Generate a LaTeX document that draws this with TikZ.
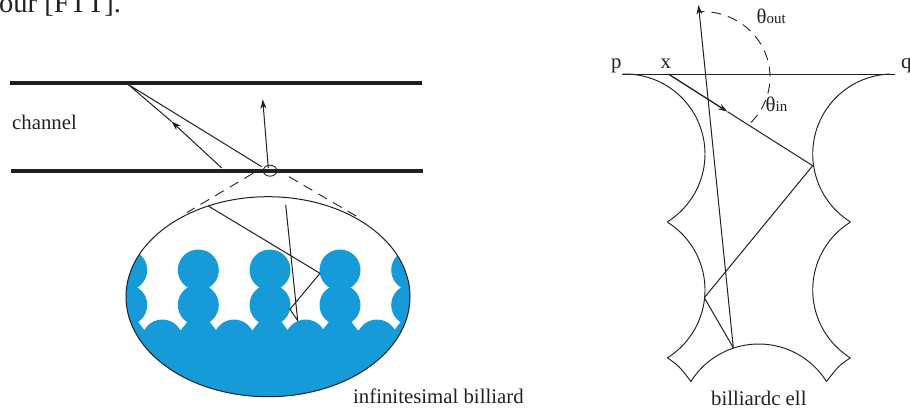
\documentclass[tikz,border=0pt]{standalone}
\usepackage{fontspec}
\setmainfont{Liberation Serif}
\usetikzlibrary{arrows.meta,shapes.geometric}
\definecolor{billblue}{HTML}{169BD8}
\definecolor{inkdark}{HTML}{231F20}
\newcommand{\cellarc}[5]{plot[domain=#4:#5,samples=50,smooth,variable=\a] ({#1+#3*cos(\a)},{#2+#3*sin(\a)})}
\tikzset{
  thin line/.style={draw=inkdark,line width=0.95pt},
  wall/.style={draw=inkdark,line width=4.4pt},
  traj/.style={draw=inkdark,line width=1pt,line join=round},
  headed/.style={draw=inkdark,line width=1pt,-{Stealth[length=9.5pt,width=6pt]}},
  dashline/.style={draw=inkdark,line width=0.9pt,dash pattern=on 10pt off 7pt},
  label/.style={inner sep=0pt,anchor=base west,font=\fontsize{20.8pt}{24pt}\selectfont,text=inkdark}
}
\begin{document}
\begin{tikzpicture}[x=1pt,y=-1pt]
\useasboundingbox (0,0) rectangle (910,410);
% cropped text at the top
\node[label,font=\fontsize{28.5pt}{30pt}\selectfont] (top) at (-1,12) {our [FTT].};
% channel
\coordinate (wa1) at (10,82.7); \coordinate (wa2) at (422,82.7);
\coordinate (wb1) at (11,170.7); \coordinate (wb2) at (423,170.7);
\draw[wall] (wa1) -- (wa2);
\draw[wall] (wb1) -- (wb2);
\node[label] (channel) at (12,129.3) {channel};
\coordinate (c1) at (128.3,84.5);
\coordinate (c2) at (261.7,166.7);
\coordinate (c3) at (221.7,168);
\coordinate (c3m) at (171.5,121.5);
\coordinate (c4) at (268.3,168);
\coordinate (c5) at (262.7,99.3);
\draw[traj] (c2) -- (c1) -- (c3m);
\draw[headed] (c3) -- (c3m);
\draw[headed] (c4) -- (c5);
\node[draw=inkdark,line width=0.9pt,ellipse,minimum width=13.5pt,minimum height=11pt,inner sep=0pt] (spot) at (270,170.7) {};
% zoom lens
\begin{scope}
  \clip (268,296.7) ellipse [x radius=142, y radius=100];
  \foreach \cx in {126.7,198.3,270,340,411.7} {
    \fill[billblue] (\cx,270) circle [radius=20.5];
    \fill[billblue] (\cx,305) circle [radius=20.5];
    \fill[billblue] (\cx-11,322) -- (\cx-17.8,330.5) -- (\cx+18,330.5) -- (\cx+11.5,322) -- cycle;
  }
  \foreach \bx in {162.3,234,305.6,377} {
    \fill[billblue] (\bx,340) circle [radius=20.5];
  }
  \fill[billblue] (120,330) rectangle (420,400);
\end{scope}
\node[draw=inkdark,line width=1pt,ellipse,minimum width=284pt,minimum height=200pt,inner sep=0pt] (lens) at (268,296.7) {};
\coordinate (d1a) at (253,173.3); \coordinate (d1b) at (187,212.5);
\coordinate (d2a) at (289,176.7); \coordinate (d2b) at (357,216.5);
\draw[dashline] (d1a) -- (d1b);
\draw[dashline] (d2a) -- (d2b);
\coordinate (e1) at (208.3,206);
\coordinate (e2) at (320,273.3);
\coordinate (e3) at (290,309.3);
\coordinate (e4) at (297.7,320.7);
\coordinate (e5) at (285.7,205);
\draw[traj] (e1) -- (e2) -- (e3) -- (e4) -- (e5);
\node[label] (inf) at (353,403) {infinitesimal billiard};
% billiard cell
\coordinate (p0) at (622.7,74); \coordinate (q0) at (895,74);
\draw[thin line] (p0) -- (q0);
\draw[thin line] \cellarc{625}{154}{80}{-92}{58};
\draw[thin line] \cellarc{625}{290}{80}{-58}{58};
\draw[thin line] \cellarc{892.7}{154}{80}{268}{122};
\draw[thin line] \cellarc{892.7}{290}{80}{238}{122};
\draw[thin line] \cellarc{758.7}{424}{80}{-148}{-32};
\coordinate (cl1) at (667.4,357.8); \coordinate (cl2) at (691,381.5);
\coordinate (cr1) at (850.3,357.8); \coordinate (cr2) at (826.5,381.5);
\draw[thin line] (cl1) .. controls (679,366) .. (cl2);
\draw[thin line] (cr1) .. controls (838.5,366) .. (cr2);
\coordinate (t0) at (668.3,74);
\coordinate (tm) at (727.5,111.7);
\coordinate (t1) at (812.7,165.7);
\coordinate (t2) at (704.3,297.7);
\coordinate (t3) at (733.3,347.7);
\coordinate (t4) at (698.5,5);
\draw[traj] (tm) -- (t1) -- (t2) -- (t3);
\draw[headed,line width=1.3pt] (t0) -- (tm);
\draw[headed] (t3) -- (t4);
\draw[dashline] plot[domain=-44:92,samples=60,smooth,variable=\a] ({702+68*cos(\a)},{77-65.5*sin(\a)});
\node[label] (plab) at (611,68.5) {p};
\node[label] (xlab) at (660.5,68.5) {x};
\node[label] (qlab) at (901,68.5) {q};
\node[label] (thout) at (756.5,23.5) {θ{\fontsize{15pt}{18pt}\selectfont out}};
\node[label] (thin) at (765.5,111.7) {θ{\fontsize{15pt}{18pt}\selectfont in}};
\node[label] (cell) at (711,405) {billiardc ell};
\end{tikzpicture}
\end{document}
